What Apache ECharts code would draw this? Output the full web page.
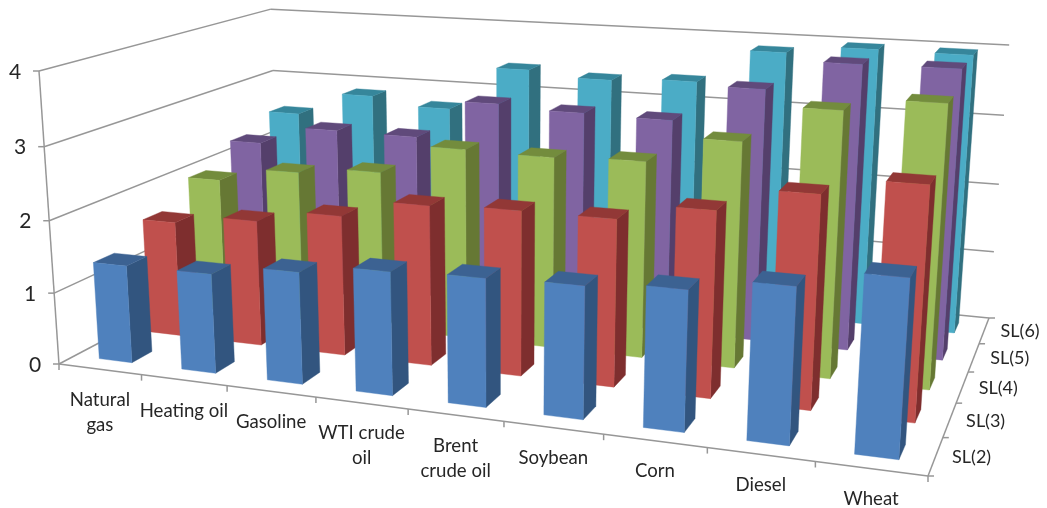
<!DOCTYPE html>
<html>
<head>
<meta charset="utf-8">
<style>html,body{margin:0;padding:0;background:#fff}#chart{width:1047px;height:508px}</style>
<script src="https://cdn.jsdelivr.net/npm/echarts@6/dist/echarts.min.js"></script>
</head>
<body>
<div id="chart"></div>
<script>
// Commodities, left to right along the front of the floor.
const categories = ['Natural\ngas', 'Heating oil', 'Gasoline', 'WTI crude\noil', 'Brent\ncrude oil', 'Soybean', 'Corn', 'Diesel', 'Wheat'];
const valueTicks = [0, 1, 2, 3, 4];
const depthLabels = ['SL(2)', 'SL(3)', 'SL(4)', 'SL(5)', 'SL(6)'];

const sl2 = [1.36, 1.37, 1.52, 1.65, 1.69, 1.72, 1.80, 1.97, 2.20];
const sl3 = [1.65, 1.78, 1.96, 2.21, 2.25, 2.25, 2.47, 2.78, 3.00];
const sl4 = [1.98, 2.19, 2.29, 2.71, 2.69, 2.73, 3.09, 3.58, 3.75];
const sl5 = [2.28, 2.56, 2.55, 3.12, 3.07, 3.05, 3.56, 3.97, 3.98];
const sl6 = [2.50, 2.86, 2.74, 3.41, 3.33, 3.38, 3.87, 3.98, 3.97];
const rows = [sl2, sl3, sl4, sl5, sl6];

// front, right side, top
const palettes = [
  ['#4F81BD', '#32557F', '#3C6292'],
  ['#C0504D', '#7E2E2E', '#923836'],
  ['#9BBB59', '#667834', '#738C3D'],
  ['#8064A2', '#543F6B', '#604A7B'],
  ['#4BACC6', '#31707F', '#36869B']
];

// Camera: the floor's corners on screen, plus the point where verticals converge.
const floorFL = [59, 364], floorFR = [928, 476], floorBR = [989, 318], floorBL = [279, 248];
const vanish = [504, 6885];
const wallTopFL = 71;
const barSpan = 0.4;

const nCat = categories.length, nDepth = depthLabels.length, yMax = valueTicks[valueTicks.length - 1];

const dx1 = floorFR[0] - floorBR[0], dy1 = floorFR[1] - floorBR[1];
const dx2 = floorBL[0] - floorBR[0], dy2 = floorBL[1] - floorBR[1];
const sx = floorFL[0] - floorFR[0] + floorBR[0] - floorBL[0];
const sy = floorFL[1] - floorFR[1] + floorBR[1] - floorBL[1];
const det = dx1 * dy2 - dx2 * dy1;
const g = (sx * dy2 - dx2 * sy) / det;
const h = (dx1 * sy - sx * dy1) / det;
const a = floorFR[0] - floorFL[0] + g * floorFR[0], b = floorBL[0] - floorFL[0] + h * floorBL[0];
const d = floorFR[1] - floorFL[1] + g * floorFR[1], e = floorBL[1] - floorFL[1] + h * floorBL[1];
const lift = (wallTopFL - floorFL[1]) / (vanish[1] - wallTopFL) / yMax;

// Maps (category position, value, depth position) to the screen.
function project(x, y, z) {
  const u = x / nCat, w = z / nDepth;
  const W = 1 + g * u + h * w + y * lift;
  return [
    (a * u + b * w + floorFL[0] + y * lift * vanish[0]) / W,
    (d * u + e * w + floorFL[1] + y * lift * vanish[1]) / W
  ];
}

function barItem(row) {
  return function (params, api) {
    const sys = params.coordSys;
    const p = api.coord([api.value(0), api.value(1)]);
    const cx = (p[0] - sys.x) / sys.width * nCat;
    const v = (sys.y + sys.height - p[1]) / sys.height * yMax;
    const half = barSpan / 2;
    const x0 = cx - half, x1 = cx + half;
    const z0 = row + 0.5 - half, z1 = row + 0.5 + half;
    const colors = palettes[row];
    const face = (pts, fill) => ({
      type: 'polygon', silent: true,
      shape: { points: pts },
      style: { fill: fill, stroke: fill, lineWidth: 0.4 }
    });
    return {
      type: 'group',
      children: [
        face([project(x1, 0, z0), project(x1, v, z0), project(x1, v, z1), project(x1, 0, z1)], colors[1]),
        face([project(x0, v, z0), project(x1, v, z0), project(x1, v, z1), project(x0, v, z1)], colors[2]),
        face([project(x0, 0, z0), project(x1, 0, z0), project(x1, v, z0), project(x0, v, z0)], colors[0])
      ]
    };
  };
}

const axisColor = '#979797';
const textColor = '#262626';
const fontFamily = 'Lato, sans-serif';

function segment(p, q, width) {
  return {
    type: 'line', silent: true,
    shape: { x1: p[0], y1: p[1], x2: q[0], y2: q[1] },
    style: { stroke: axisColor, lineWidth: width || 1.5 }
  };
}
function label(text, x, y, size, valign) {
  return {
    type: 'text', silent: true,
    style: {
      text: text, x: x, y: y, fill: textColor, align: 'center',
      verticalAlign: valign || 'middle', fontFamily: fontFamily, fontSize: size, lineHeight: 25
    }
  };
}

// Walls' gridlines, the three axes, their ticks and labels.
function frameItem() {
  const kids = [];
  valueTicks.forEach(v => {
    const front = project(0, v, 0), back = project(0, v, nDepth), right = project(nCat, v, nDepth);
    kids.push(segment(front, back), segment(back, right));
    kids.push(segment(front, [front[0] - 6, front[1]]));
    kids.push(label(String(v), front[0] - 24, front[1] + 1, 21));
  });
  kids.push(segment(project(0, 0, 0), project(0, yMax, 0)));
  kids.push(segment(project(0, 0, 0), project(nCat, 0, 0)));
  kids.push(segment(project(nCat, 0, 0), project(nCat, 0, nDepth)));
  for (let i = 0; i <= nCat; i++) {
    const t = project(i, 0, 0);
    kids.push(segment(t, [t[0], t[1] + 6]));
  }
  for (let k = 0; k <= nDepth; k++) {
    const t = project(nCat, 0, k);
    kids.push(segment(t, [t[0] + 6, t[1]]));
  }
  categories.forEach((name, i) => {
    const t = project(i + 0.5, 0, 0);
    kids.push(label(name, t[0], t[1] + 18, 18.6, 'top'));
  });
  depthLabels.forEach((name, k) => {
    const t = project(nCat, 0, k + 0.5);
    kids.push(label(name, t[0] + 36, t[1] + 1, 18));
  });
  return { type: 'group', children: kids };
}

const series = [{
  type: 'custom', name: 'frame', coordinateSystem: 'cartesian2d', z: 1,
  data: [[0, 0]], renderItem: frameItem, silent: true, animation: false
}];
rows.forEach((values, row) => {
  series.push({
    type: 'custom',
    name: depthLabels[row],
    coordinateSystem: 'cartesian2d',
    z: 10 + nDepth - row,
    encode: { x: 0, y: 1 },
    data: values.map((v, i) => [i, v]),
    renderItem: barItem(row),
    silent: true,
    animation: false
  });
});

const chart = echarts.init(document.getElementById('chart'), null, { renderer: 'canvas' });
chart.setOption({
  backgroundColor: '#ffffff',
  animation: false,
  grid: { left: 0, right: 0, top: 0, bottom: 0 },
  xAxis: { type: 'category', data: categories, show: false },
  yAxis: { type: 'value', min: 0, max: yMax, show: false },
  series: series
});
</script>
</body>
</html>
